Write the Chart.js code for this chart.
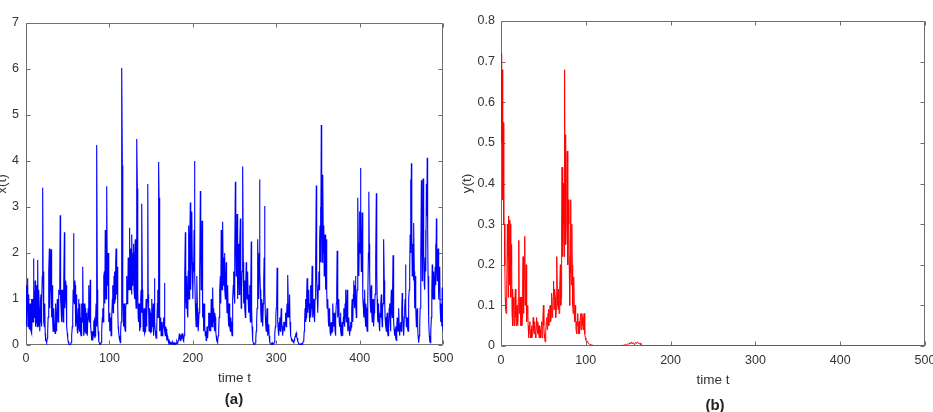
<!DOCTYPE html>
<html>
<head>
<meta charset="utf-8">
<script src="https://cdn.jsdelivr.net/npm/chart.js@4.4.0/dist/chart.umd.min.js"></script>
<style>
  html, body { margin: 0; padding: 0; background: #fff; overflow: hidden; }
  body { width: 933px; height: 412px; position: relative; font-family: "Liberation Sans", Arial, sans-serif; }
  .panel { position: absolute; top: 0; height: 412px; }
  #panelA { left: 0; width: 460px; }
  #panelB { left: 460px; width: 485px; }
  .cap { position: absolute; font-weight: bold; font-size: 15px; color: #222; transform: translate(-50%, -50%); }
</style>
</head>
<body>
<div class="panel" id="panelA"><canvas id="chartA" width="460" height="412"></canvas></div>
<div class="panel" id="panelB"><canvas id="chartB" width="485" height="412"></canvas></div>
<div class="cap" style="left:234px; top:398px;">(a)</div>
<div class="cap" style="left:715px; top:404px;">(b)</div>
<script>
// time axis ticks shared by both panels
const timeTicks = [0, 100, 200, 300, 400, 500];
const xTicksA = [0, 1, 2, 3, 4, 5, 6, 7];
const yTicksB = [0, 0.1, 0.2, 0.3, 0.4, 0.5, 0.6, 0.7, 0.8];

// x(t), one value per time unit, t = 0..500
const xSeries = [
  1.3, 0.5, 1.45, 0.6, 0.35, 0.9, 0.3, 0.25, 1.0, 1.88,
  0.6, 1.4, 0.5, 0.9, 1.85, 0.4, 0.8, 0.5, 1.1, 0.9,
  3.42, 1.0, 0.4, 0.25, 0.1, 0.05, 0.3, 0.9, 2.1, 1.2,
  2.08, 0.9, 0.5, 0.3, 0.45, 0.25, 0.6, 0.4, 0.9, 0.7,
  1.1, 2.82, 0.8, 0.5, 1.2, 0.6, 2.45, 1.0, 1.3, 0.4,
  0.15, 0.05, 0.02, 0.01, 0.05, 0.2, 0.6, 2.43, 0.9, 1.3,
  0.5, 0.8, 0.25, 1.0, 0.3, 0.6, 0.2, 0.9, 1.7, 0.5,
  0.3, 0.8, 0.25, 0.6, 0.2, 1.3, 0.5, 1.42, 0.3, 0.15,
  0.1, 0.3, 0.55, 0.2, 0.9, 4.35, 0.5, 0.2, 0.05, 0.02,
  0.05, 0.3, 0.8, 1.2, 1.6, 2.5, 1.0, 3.45, 1.8, 1.2,
  0.7, 0.4, 0.2, 0.6, 1.3, 0.8, 1.6, 1.0, 2.1, 1.4,
  0.8, 0.3, 0.1, 0.05, 0.5, 6.02, 1.0, 0.4, 0.8, 0.3,
  0.9, 1.5, 1.0, 1.8, 2.55, 1.2, 2.0, 2.4, 1.4, 2.2,
  1.0, 2.3, 0.8, 4.48, 1.1, 0.5, 0.8, 0.4, 1.2, 3.07,
  0.8, 0.4, 0.6, 0.3, 1.0, 0.6, 3.5, 0.8, 0.4, 0.7,
  0.3, 1.0, 0.5, 0.2, 1.45, 0.3, 0.15, 0.4, 1.2, 3.98,
  0.9, 0.4, 0.2, 0.5, 0.3, 0.6, 1.35, 0.2, 0.35, 0.1,
  0.15, 0.05, 0.1, 0.03, 0.06, 0.02, 0.05, 0.03, 0.02, 0.04,
  0.03, 0.08, 0.05, 0.12, 0.25, 0.1, 0.22, 0.15, 0.26, 0.08,
  0.4, 2.45, 0.8, 1.5, 0.6, 2.6, 1.3, 3.1, 1.8, 2.9,
  1.0, 1.6, 4.0, 0.9, 0.4, 1.5, 0.5, 0.3, 1.0, 3.35,
  1.2, 2.7, 0.6, 0.3, 0.9, 0.2, 0.1, 0.4, 0.15, 0.7,
  0.3, 0.6, 1.0, 0.4, 1.25, 0.8, 0.3, 0.6, 0.2, 0.08,
  0.1, 0.3, 0.8, 1.5, 2.5, 1.2, 2.68, 1.6, 2.0, 1.0,
  1.8, 0.7, 1.3, 0.4, 0.8, 0.3, 0.5, 0.2, 1.0, 1.6,
  0.9, 3.55, 1.5, 2.85, 1.0, 2.2, 1.4, 2.75, 0.8, 1.6,
  3.88, 0.9, 1.3, 0.6, 1.8, 1.0, 1.5, 0.7, 1.3, 0.5,
  2.25, 0.4, 0.1, 0.02, 0.0, 0.05, 0.3, 0.8, 2.3, 1.0,
  3.6, 1.2, 0.5, 0.9, 0.4, 1.4, 3.02, 0.6, 0.3, 0.8,
  0.2, 0.45, 0.1, 0.03, 0.02, 0.05, 0.01, 0.02, 0.1, 0.4,
  0.8, 1.68, 0.5, 0.2, 0.6, 0.3, 0.8, 0.4, 0.2, 0.5,
  0.3, 0.7, 0.4, 0.9, 1.52, 0.6, 1.1, 0.3, 0.15, 0.08,
  0.1, 0.05, 0.12, 0.2, 0.26, 0.15, 0.08, 0.03, 0.02, 0.01,
  0.03, 0.02, 0.05, 0.1, 0.5, 1.0, 0.6, 1.45, 0.7, 1.2,
  0.5, 1.3, 0.8, 1.72, 0.6, 1.0, 0.5, 1.4, 3.47, 1.2,
  0.7, 1.6, 2.3, 3.0, 4.78, 1.8, 3.7, 2.6, 2.0, 1.2,
  2.3, 0.8, 1.0, 0.4, 0.7, 0.2, 0.5, 0.3, 0.9, 0.4,
  0.6, 0.2, 0.9, 2.05, 0.6, 1.0, 0.4, 0.7, 0.2, 0.5,
  0.3, 0.8, 0.4, 1.2, 0.5, 1.2, 0.3, 0.6, 0.2, 0.5,
  0.4, 1.0, 0.5, 1.4, 0.8, 1.5, 0.6, 1.2, 3.2, 1.5,
  2.9, 3.85, 1.6, 2.88, 1.0, 0.6, 1.2, 0.4, 0.8, 0.3,
  1.0, 3.33, 1.6, 0.7, 1.3, 0.5, 1.0, 0.4, 0.8, 1.3,
  3.3, 1.0, 0.5, 0.8, 0.3, 0.6, 1.1, 0.4, 0.9, 2.3,
  1.0, 0.5, 0.3, 0.7, 0.2, 0.5, 0.9, 0.3, 1.2, 0.6,
  1.95, 0.5, 0.2, 0.4, 0.1, 0.6, 0.3, 0.8, 0.2, 0.5,
  0.3, 1.13, 0.5, 0.2, 0.8, 1.75, 0.4, 0.6, 0.3, 1.0,
  1.6, 3.6, 3.95, 1.5, 2.0, 2.65, 0.8, 1.5, 0.4, 0.8,
  0.2, 0.05, 0.4, 1.0, 3.58, 1.4, 3.62, 2.0, 1.2, 2.5,
  3.5, 4.07, 1.5, 0.5, 0.1, 0.05, 0.6, 1.75, 1.0, 1.6,
  1.2, 2.2, 2.75, 1.4, 2.1, 1.0, 1.7, 0.5, 0.8, 1.25,
  0.3
];
// x(t) in between, at t = 0.5, 1.5, ..., 499.5 (the fast oscillation of the band)
const xSeriesHalf = [
  0.4, 1.2, 0.4, 1.1, 0.8, 0.35, 1.0, 0.7, 0.5, 1.2,
  1.0, 0.4, 1.3, 0.4, 0.7, 1.2, 0.3, 1.0, 0.4, 1.5,
  1.6, 0.5, 0.9, 0.1, 0.05, 0.15, 0.6, 1.6, 0.8, 1.7,
  0.6, 1.3, 0.3, 0.8, 0.3, 0.9, 0.3, 1.0, 0.5, 1.2,
  1.4, 1.0, 1.2, 0.9, 0.5, 1.3, 0.8, 1.4, 0.7, 0.25,
  0.08, 0.03, 0.01, 0.02, 0.12, 0.4, 1.2, 1.0, 1.4, 0.4,
  1.1, 0.3, 0.8, 0.4, 0.9, 0.25, 0.6, 0.5, 0.9, 0.2,
  0.9, 0.3, 0.7, 0.2, 0.8, 0.6, 1.0, 0.4, 0.1, 0.3,
  0.2, 0.5, 0.15, 0.6, 0.4, 1.2, 0.3, 0.08, 0.01, 0.03,
  0.15, 0.6, 0.5, 1.5, 0.9, 1.4, 1.8, 1.3, 2.0, 0.5,
  0.3, 0.6, 0.5, 1.0, 0.7, 1.5, 0.9, 1.8, 1.1, 1.7,
  0.4, 0.2, 0.15, 0.3, 1.5, 3.9, 0.6, 0.9, 0.4, 0.8,
  1.4, 0.9, 1.9, 1.2, 1.6, 2.1, 1.1, 1.3, 2.0, 1.2,
  1.8, 1.0, 2.2, 3.4, 0.6, 0.9, 0.3, 1.0, 0.7, 1.2,
  0.3, 0.8, 0.25, 0.7, 0.4, 1.0, 1.1, 0.3, 0.8, 0.25,
  0.7, 0.4, 0.9, 0.6, 0.5, 0.2, 0.3, 0.9, 0.6, 3.2,
  0.3, 0.6, 0.3, 0.2, 0.5, 0.4, 0.3, 0.4, 0.2, 0.2,
  0.08, 0.1, 0.04, 0.05, 0.03, 0.04, 0.02, 0.05, 0.03, 0.02,
  0.06, 0.04, 0.1, 0.2, 0.15, 0.2, 0.12, 0.22, 0.1, 0.2,
  1.5, 1.0, 1.3, 0.7, 1.6, 1.0, 2.2, 1.2, 2.4, 1.6,
  1.8, 2.5, 1.5, 0.6, 1.0, 0.8, 0.3, 0.7, 1.6, 2.2,
  1.8, 1.2, 0.9, 0.5, 0.4, 0.3, 0.2, 0.25, 0.4, 0.5,
  0.7, 0.3, 0.6, 0.9, 0.5, 0.4, 0.7, 0.3, 0.1, 0.05,
  0.2, 0.6, 1.2, 0.9, 1.6, 2.0, 1.3, 1.9, 1.2, 1.5,
  1.0, 1.1, 0.6, 0.9, 0.4, 0.6, 0.3, 0.7, 1.3, 1.1,
  2.0, 2.1, 1.9, 1.6, 1.8, 1.1, 2.2, 1.4, 1.2, 2.4,
  1.8, 1.4, 0.8, 1.4, 1.2, 1.6, 0.9, 1.1, 0.8, 1.3,
  0.8, 0.2, 0.05, 0.01, 0.02, 0.15, 0.5, 1.3, 1.5, 2.0,
  1.6, 0.7, 1.0, 0.5, 0.9, 1.9, 1.2, 0.4, 0.6, 0.4,
  0.35, 0.2, 0.05, 0.02, 0.03, 0.02, 0.02, 0.05, 0.25, 0.6,
  0.9, 0.8, 0.3, 0.5, 0.35, 0.6, 0.5, 0.25, 0.4, 0.35,
  0.5, 0.5, 0.7, 0.6, 0.9, 0.8, 0.5, 0.2, 0.1, 0.12,
  0.06, 0.1, 0.18, 0.22, 0.18, 0.1, 0.05, 0.02, 0.01, 0.02,
  0.01, 0.04, 0.08, 0.3, 0.8, 0.5, 1.1, 0.8, 1.0, 0.8,
  0.9, 0.6, 1.2, 0.9, 0.8, 0.6, 1.0, 1.8, 1.5, 1.0,
  1.3, 1.2, 2.6, 1.8, 2.8, 2.4, 2.0, 1.5, 2.4, 1.5,
  1.2, 1.0, 0.5, 0.8, 0.3, 0.4, 0.25, 0.6, 0.5, 0.7,
  0.3, 0.6, 1.2, 1.0, 0.8, 0.5, 0.6, 0.3, 0.4, 0.2,
  0.6, 0.5, 0.9, 0.7, 0.9, 0.5, 0.5, 0.3, 0.4, 0.3,
  0.8, 0.6, 1.1, 1.0, 1.3, 0.9, 1.0, 2.0, 2.0, 2.2,
  2.0, 2.6, 2.2, 1.8, 0.8, 1.0, 0.6, 0.9, 0.4, 0.7,
  2.0, 2.2, 1.0, 1.1, 0.7, 0.9, 0.6, 0.7, 1.1, 1.9,
  1.6, 0.6, 0.9, 0.4, 0.7, 0.9, 0.6, 0.8, 1.5, 1.4,
  0.6, 0.4, 0.6, 0.3, 0.4, 0.8, 0.5, 0.8, 0.7, 1.2,
  0.9, 0.3, 0.35, 0.15, 0.4, 0.4, 0.6, 0.35, 0.4, 0.35,
  0.8, 0.7, 0.3, 0.6, 1.0, 0.8, 0.5, 0.35, 0.8, 1.2,
  2.4, 2.0, 2.5, 2.2, 1.4, 1.6, 1.2, 0.8, 0.7, 0.4,
  0.08, 0.2, 0.8, 1.9, 2.2, 2.0, 2.6, 1.3, 1.9, 1.6,
  2.8, 2.6, 0.8, 0.2, 0.05, 0.3, 1.2, 1.1, 1.5, 1.0,
  1.7, 1.3, 1.8, 1.9, 1.3, 1.6, 0.8, 0.9, 0.4, 0.6
];

// y(t), one value per time unit for t = 0..169
const ySeries = [
  0.72, 0.62, 0.36, 0.45, 0.3, 0.12, 0.08, 0.14, 0.22, 0.32,
  0.15, 0.3, 0.2, 0.08, 0.05, 0.12, 0.06, 0.14, 0.05, 0.1,
  0.06, 0.26, 0.1, 0.05, 0.12, 0.07, 0.22, 0.1, 0.27, 0.15,
  0.12, 0.08, 0.05, 0.03, 0.06, 0.02, 0.05, 0.03, 0.07, 0.03,
  0.05, 0.02, 0.07, 0.03, 0.05, 0.02, 0.04, 0.02, 0.06, 0.03,
  0.1, 0.03, 0.01, 0.04, 0.07, 0.05, 0.09, 0.06, 0.1, 0.07,
  0.13, 0.08, 0.16, 0.1, 0.12, 0.09, 0.22, 0.1, 0.14, 0.1,
  0.2, 0.12, 0.44, 0.25, 0.3, 0.68, 0.52, 0.3, 0.48, 0.2,
  0.3, 0.1, 0.36, 0.15, 0.2, 0.08, 0.17, 0.06, 0.08, 0.03,
  0.05, 0.03, 0.06, 0.04, 0.08, 0.05, 0.07, 0.04, 0.08, 0.03,
  0.015, 0.01, 0.012, 0.006, 0.005, 0.004, 0.003, 0.002, 0.002, 0.001,
  0, 0, 0, 0, 0, 0, 0, 0, 0, 0,
  0, 0, 0, 0, 0, 0, 0, 0, 0, 0,
  0, 0, 0, 0, 0, 0, 0, 0, 0, 0,
  0, 0, 0.001, 0.002, 0, 0.003, 0.002, 0.004, 0.003, 0.005,
  0.004, 0.006, 0.008, 0.005, 0.01, 0.006, 0.008, 0.004, 0.007, 0.009,
  0.006, 0.01, 0.008, 0.005, 0.007, 0.003, 0.002, 0.001, 0, 0
];
// y(t) in between, at t = 0.5 .. 99.5
const ySeriesHalf = [
  0.5, 0.68, 0.55, 0.3, 0.2, 0.09, 0.12, 0.3, 0.12, 0.28,
  0.31, 0.12, 0.25, 0.14, 0.1, 0.05, 0.11, 0.07, 0.09, 0.05,
  0.12, 0.08, 0.12, 0.09, 0.05, 0.15, 0.08, 0.2, 0.1, 0.2,
  0.06, 0.1, 0.02, 0.05, 0.03, 0.04, 0.02, 0.05, 0.04, 0.06,
  0.03, 0.05, 0.04, 0.06, 0.03, 0.05, 0.03, 0.05, 0.02, 0.06,
  0.05, 0.02, 0.03, 0.06, 0.04, 0.08, 0.05, 0.09, 0.06, 0.1,
  0.07, 0.12, 0.09, 0.14, 0.07, 0.15, 0.13, 0.09, 0.08, 0.15,
  0.1, 0.3, 0.22, 0.4, 0.22, 0.35, 0.25, 0.4, 0.3, 0.36,
  0.2, 0.22, 0.18, 0.3, 0.1, 0.15, 0.08, 0.1, 0.04, 0.06,
  0.08, 0.05, 0.03, 0.07, 0.04, 0.08, 0.05, 0.07, 0.05, 0.02
];
// after t = 170 the series stays on zero
const yTailTimes = [200, 300, 400, 500];
const yTailValues = [0, 0, 0, 0];

const AXIS_COLOR = '#6e6e6e';
const TEXT_COLOR = '#333';
const TICK_LEN = 4;
const tickFont = { family: '"Liberation Sans", Arial, sans-serif', size: 12.5 };
const titleFont = { family: '"Liberation Sans", Arial, sans-serif', size: 13.5 };

// MATLAB-like box with inward ticks on all four sides
const boxAxes = {
  id: 'boxAxes',
  beforeDatasetsDraw(chart) {
    const { ctx, chartArea: a, scales } = chart;
    const l = Math.round(a.left) + 0.5, r = Math.round(a.right) - 0.5;
    const t = Math.round(a.top) + 0.5, b = Math.round(a.bottom) - 0.5;
    ctx.save();
    ctx.strokeStyle = AXIS_COLOR;
    ctx.lineWidth = 1;
    ctx.beginPath();
    ctx.rect(l, t, r - l, b - t);
    scales.x.ticks.forEach(tk => {
      const px = Math.round(scales.x.getPixelForValue(tk.value)) + 0.5;
      ctx.moveTo(px, b); ctx.lineTo(px, b - TICK_LEN);
      ctx.moveTo(px, t); ctx.lineTo(px, t + TICK_LEN);
    });
    scales.y.ticks.forEach(tk => {
      const py = Math.round(scales.y.getPixelForValue(tk.value)) + 0.5;
      ctx.moveTo(l, py); ctx.lineTo(l + TICK_LEN, py);
      ctx.moveTo(r, py); ctx.lineTo(r - TICK_LEN, py);
    });
    ctx.stroke();
    ctx.restore();
  }
};

function makeChart(id, points, color, width, yTicks, yMax, yTitle, o) {
  return new Chart(document.getElementById(id), {
    type: 'line',
    data: {
      datasets: [{
        data: points,
        borderColor: color,
        borderWidth: width,
        pointRadius: 0,
        tension: 0,
        fill: false
      }]
    },
    options: {
      responsive: false,
      animation: false,
      devicePixelRatio: 1,
      layout: { padding: { top: o.top, right: o.right, left: 0, bottom: 0 } },
      plugins: { legend: { display: false }, tooltip: { enabled: false } },
      scales: {
        x: {
          type: 'linear',
          min: 0,
          max: 500,
          afterBuildTicks: s => { s.ticks = timeTicks.map(v => ({ value: v })); },
          afterFit: s => { s.height = o.xHeight; },
          grid: { display: false, drawTicks: false },
          border: { display: false },
          ticks: { autoSkip: false, maxRotation: 0, padding: o.xTickPad, font: tickFont, color: TEXT_COLOR, callback: v => String(v) },
          title: { display: true, text: 'time t', font: titleFont, color: TEXT_COLOR, padding: { top: 0, bottom: o.xTitlePad } }
        },
        y: {
          type: 'linear',
          min: 0,
          max: yMax,
          afterBuildTicks: s => { s.ticks = yTicks.map(v => ({ value: v })); },
          afterFit: s => { s.width = o.yWidth; },
          grid: { display: false, drawTicks: false },
          border: { display: false },
          ticks: { autoSkip: false, padding: o.yTickPad, font: tickFont, color: TEXT_COLOR, callback: v => String(+v.toFixed(1)) },
          title: { display: true, text: yTitle, font: titleFont, color: TEXT_COLOR, padding: { top: o.yTitlePad, bottom: 0 } }
        }
      }
    },
    plugins: [boxAxes]
  });
}

// merge whole-step and half-step readings into one time-ordered list
function mergeSeries(whole, half) {
  const pts = [];
  whole.forEach((v, i) => {
    pts.push({ x: i, y: v });
    if (i < half.length) pts.push({ x: i + 0.5, y: half[i] });
  });
  return pts;
}

const pointsA = mergeSeries(xSeries, xSeriesHalf);
const pointsB = mergeSeries(ySeries, ySeriesHalf)
  .concat(yTailTimes.map((t, i) => ({ x: t, y: yTailValues[i] })));

makeChart('chartA', pointsA, '#0000ff', 1.1, xTicksA, 7, 'x(t)',
  { top: 23, right: 15, xHeight: 67, yWidth: 26, xTickPad: 6.5, xTitlePad: 26, yTickPad: 7, yTitlePad: -6 });
makeChart('chartB', pointsB, '#ff0000', 1, yTicksB, 0.8, 'y(t)',
  { top: 21, right: 20, xHeight: 66, yWidth: 41, xTickPad: 7.5, xTitlePad: 24, yTickPad: 6, yTitlePad: -1 });
</script>
</body>
</html>
